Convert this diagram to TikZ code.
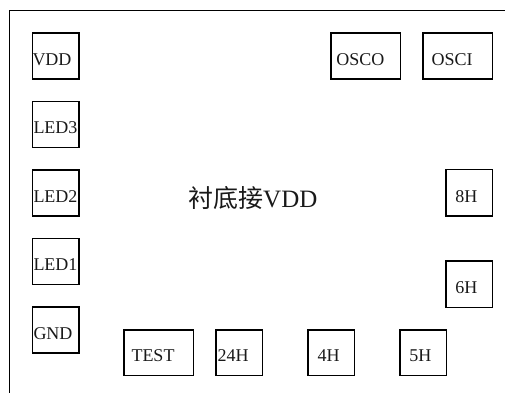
\documentclass[tikz,border=0pt]{standalone}
\usepackage{fontspec}
\setmainfont{Liberation Serif}
\newfontfamily\cjkfont{Noto Sans CJK SC}
\usetikzlibrary{calc}
\newcommand\padfont{\fontsize{18pt}{18pt}\selectfont}
\newcommand\padbox[7]{%
  \node[pad, anchor=north west, minimum width={(#4-#2)*1pt}, minimum height={(#5-#3)*1pt}] (#1) at (#2,#3) {};
  \node[lbl] (#1t) at ($(#1.south west)+(#6,-14)$) {#7};
}
\tikzset{
  pad/.style={draw, line width=1.9pt, inner sep=0pt, outer sep=0pt},
  lbl/.style={anchor=base west, inner sep=0pt, outer sep=0pt, font=\padfont, text=black!90},
  frame/.style={draw, line width=1.9pt}
}
\begin{document}
\begin{tikzpicture}[x=1pt,y=-1pt]
\useasboundingbox (0,0) rectangle (505,392);
\coordinate (fbl) at (9.5,400);
\coordinate (ftl) at (9.5,10.5);
\coordinate (ftr) at (510,10.5);
\draw[frame] (fbl) -- (ftl) -- (ftr);
\padbox{vdd}{32.5}{33}{79}{79}{0}{VDD}
\padbox{led3}{32.5}{101.5}{79}{147.5}{1}{LED3}
\padbox{led2}{32.5}{170}{79}{216}{1}{LED2}
\padbox{led1}{32.5}{238.5}{79}{284.5}{1}{LED1}
\padbox{gnd}{32.5}{307}{79}{353}{1}{GND}
\padbox{test}{124}{330}{193.5}{375.5}{7.5}{TEST}
\padbox{h24}{216}{330}{262.5}{375.5}{1.5}{24H}
\padbox{h4}{308}{330}{354.5}{375.5}{9.5}{4H}
\padbox{h5}{400}{330}{446.5}{375.5}{9.3}{5H}
\padbox{h6}{446}{261}{492.5}{307.5}{9.3}{6H}
\padbox{h8}{446}{169.5}{492.5}{216}{9.3}{8H}
\padbox{osco}{331}{33}{400.5}{79}{5.3}{OSCO}
\padbox{osci}{423}{33}{492.5}{79}{8.7}{OSCI}
\node[anchor=base west, inner sep=0pt, font=\fontsize{25pt}{25pt}\selectfont, text=black!90] (sub) at (188,207) {{\cjkfont 衬底接}VDD};
\end{tikzpicture}
\end{document}
